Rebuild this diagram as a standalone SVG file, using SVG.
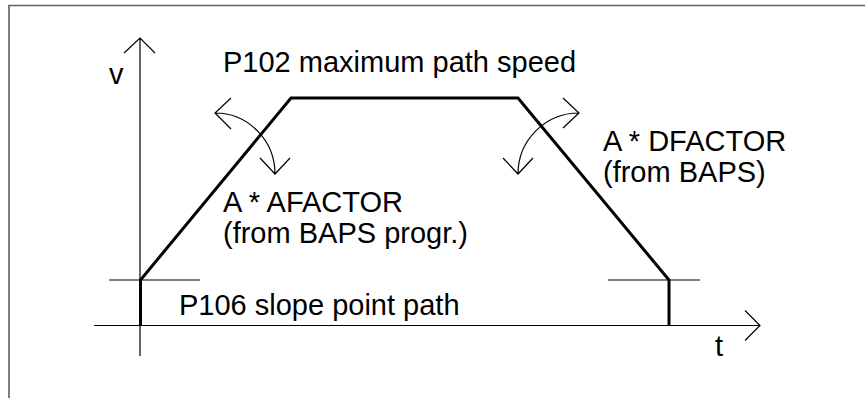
<svg xmlns="http://www.w3.org/2000/svg" width="865" height="398" viewBox="0 0 865 398">
<style>
.thin{fill:none;stroke:#000;stroke-width:1.2}
.thick{fill:none;stroke:#000;stroke-width:3;stroke-linejoin:miter}
.lbl{font-family:"Liberation Sans",Arial,sans-serif;font-size:29px;fill:#000}
.frame{fill:none;stroke:#606060;stroke-width:1.6}
</style>
<rect width="865" height="398" fill="#fff"/>
<path class="frame" d="M9,398 V5.5 H865"/>
<g id="axes">
<path class="thin" d="M140,356 V38 M124,53 L140,38 L155,53"/>
<path class="thin" d="M94,325.5 H760 M745,310.5 L760,325.5 L745,340.5"/>
</g>
<g id="profile">
<path class="thin" d="M109,280 H200 M608,280 H700"/>
<path class="thick" d="M140.5,325.5 V280 L291,98 H518 L669,280 V325.5"/>
</g>
<g id="connectors">
<path class="thin" d="M215,113 A60,61 0 0 1 275,174 M231,98 L215,113 L231,129 M260,158 L275,174 L290,158"/>
<path class="thin" d="M579,113 A61,61 0 0 0 518,174 M563,98 L579,113 L563,128 M503,158 L518,174 L533,158"/>
</g>
<g id="labels">
<text class="lbl" x="109" y="84">v</text>
<text class="lbl" x="223" y="72">P102 maximum path speed</text>
<text class="lbl" x="223" y="212">A * AFACTOR</text>
<text class="lbl" x="223" y="243">(from BAPS progr.)</text>
<text class="lbl" x="603" y="151">A * DFACTOR</text>
<text class="lbl" x="603" y="182">(from BAPS)</text>
<text class="lbl" x="179" y="315">P106 slope point path</text>
<text class="lbl" x="715" y="356">t</text>
</g>
</svg>
